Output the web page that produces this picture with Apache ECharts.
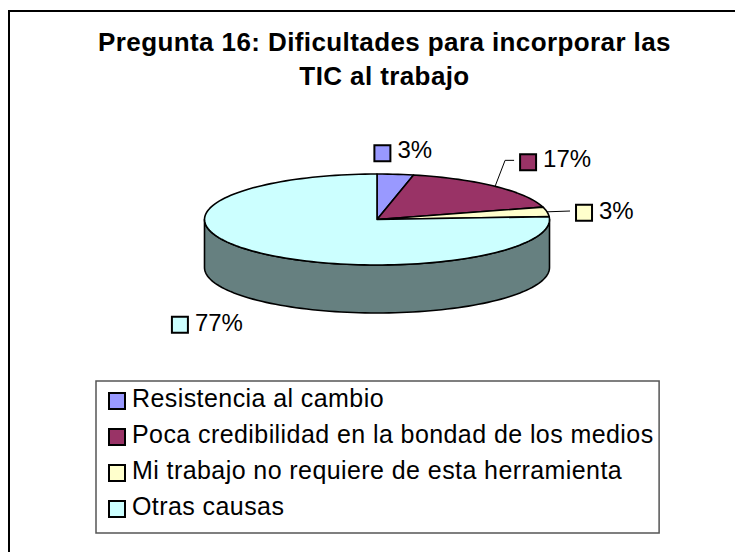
<!DOCTYPE html>
<html><head><meta charset="utf-8">
<style>html,body{margin:0;padding:0;background:#fff}#c{width:735px;height:552px}
#c svg text[style*="bold"]{letter-spacing:.4px}
#c svg text[style*="25px"]{letter-spacing:.42px}
</style>
<script src="https://cdn.jsdelivr.net/npm/echarts@6/dist/echarts.min.js"></script>
</head><body><div id="c"></div>
<script>
const titleText = 'Pregunta 16: Dificultades para incorporar las\nTIC al trabajo';
const categories = ['Resistencia al cambio','Poca credibilidad en la bondad de los medios','Mi trabajo no requiere de esta herramienta','Otras causas'];
const percentLabels = [3, 17, 3, 77];
// slice shares as drawn in the picture (the printed labels are rounded)
const sliceShares = [3.4, 17.2, 3.4, 76];
const colors = ['#9999FF','#993366','#FFFFCC','#CCFFFF'];
const sideColors = ['#4D4D80','#4D1A33','#808066','#668080'];

// layout only
const PIE = {cx:377, cy:219.5, rx:172.5, ry:45.5, depth:48};
const labelLayout = [
  {sw:[-21,-29], ty:4.5},
  {sw:[25,-32], ty:4.5, leader:[[10,-26],[19,-26]]},
  {sw:[29,-7], ty:6, leader:[[23,-0.8]]},
  {sw:[-87,64], ty:5.5}
];
const total = sliceShares.reduce((a,b)=>a+b,0);
const pt = (deg,dy)=>{const r=deg*Math.PI/180;return [PIE.cx+PIE.rx*Math.sin(r), PIE.cy-PIE.ry*Math.cos(r)+(dy||0)];};
const arc = (a,b,dy)=>{const n=Math.max(2,Math.ceil(Math.abs(b-a)/2));const o=[];for(let i=0;i<=n;i++)o.push(pt(a+(b-a)*i/n,dy));return o;};
const stroke = {stroke:'#000',lineWidth:1.6,lineJoin:'round'};

function renderSlice(params, api){
  const i = params.seriesIndex;
  const val = api.value(0);
  let before = 0;
  for(let k=0;k<i;k++) before += sliceShares[k];
  const a0 = before/total*360, a1 = (before+val)/total*360;
  const children = [];
  const w0 = Math.max(a0,90), w1 = Math.min(a1,270);
  if(w1>w0){
    const top = arc(w0,w1,0), bot = arc(w1,w0,PIE.depth);
    children.push({type:'polygon',shape:{points:top.concat(bot)},style:Object.assign({fill:sideColors[i]},stroke)});
  }
  children.push({type:'polygon',shape:{points:[[PIE.cx,PIE.cy]].concat(arc(a0,a1,0))},style:Object.assign({fill:colors[i]},stroke),z2:2});
  const rim = pt((a0+a1)/2,0), L = labelLayout[i];
  const sx = rim[0]+L.sw[0], sy = rim[1]+L.sw[1];
  if(L.leader){
    const pts=[rim].concat(L.leader.map(p=>[rim[0]+p[0],rim[1]+p[1]]));
    children.push({type:'polyline',shape:{points:pts},style:{stroke:'#000',lineWidth:1,fill:null},z2:3});
  }
  children.push({type:'rect',shape:{x:sx,y:sy,width:16,height:16},style:{fill:colors[i],stroke:'#000',lineWidth:2},z2:3});
  children.push({type:'text',style:{text:percentLabels[i]+'%',x:sx+23,y:sy+L.ty,fill:'#000',font:'24px "Liberation Sans", Arial, sans-serif',align:'left',verticalAlign:'middle'},z2:3});
  return {type:'group',children};
}

const chart = echarts.init(document.getElementById('c'),null,{renderer:'svg'});
chart.setOption({
  animation:false,
  backgroundColor:'#fff',
  title:{text:titleText,left:379.5,top:20.5,textAlign:'center',
    textStyle:{fontFamily:'"Liberation Sans", Arial, sans-serif',fontWeight:'bold',fontSize:26,color:'#000',lineHeight:33.5}},
  legend:{
    orient:'vertical',left:96,top:381,
    padding:[4,24,8,12],
    itemWidth:16,itemHeight:16,itemGap:4,
    icon:'rect',
    borderColor:'#555',borderWidth:1.5,backgroundColor:'#fff',
    formatter:name=>'{t|'+name+'}',
    textStyle:{rich:{t:{fontFamily:'"Liberation Sans", Arial, sans-serif',fontSize:25,color:'#000',lineHeight:25,padding:[0,0,7,2]}}},
    itemStyle:{borderColor:'#000',borderWidth:2},
    selectedMode:false,
    data:categories
  },
  graphic:[
    {type:'line',shape:{x1:9,y1:11,x2:735,y2:11},style:{stroke:'#000',lineWidth:2}},
    {type:'line',shape:{x1:9,y1:10,x2:9,y2:552},style:{stroke:'#000',lineWidth:2}}
  ],
  series:categories.map((name,i)=>({
    type:'custom',name,coordinateSystem:'none',
    itemStyle:{color:colors[i]},
    data:[[sliceShares[i]]],
    renderItem:renderSlice
  }))
});
</script></body></html>
